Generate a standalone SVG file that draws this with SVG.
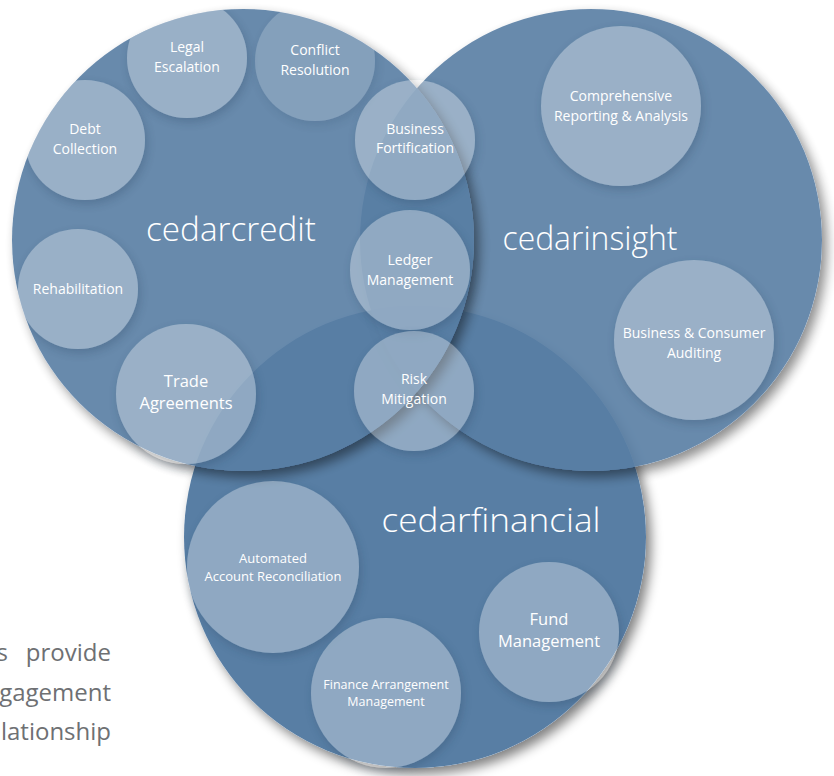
<svg xmlns="http://www.w3.org/2000/svg" width="834" height="776" viewBox="0 0 834 776">
<style>
.big{fill:#597ea4}
.fin{fill:#587ea4}
.b{fill:#ffffff;opacity:.33}
.bd{fill:#ffffff;opacity:.19}
.t{font-family:"Open Sans","Liberation Sans",sans-serif;fill:#ffffff;text-anchor:middle;font-size:14px}
.tl{font-size:16.5px}
.ts{font-size:13px}
.tx{font-size:12.5px}
.h{font-family:"Open Sans","Liberation Sans",sans-serif;font-weight:300;fill:#ffffff;text-anchor:middle;font-size:33px}
.p{font-family:"Open Sans","Liberation Sans",sans-serif;fill:#6e7073;font-size:24px;text-anchor:end}
</style>
<defs>
<filter id="bigShadow" x="-10%" y="-10%" width="125%" height="125%">
<feGaussianBlur in="SourceAlpha" stdDeviation="6" result="bl"/>
<feOffset in="bl" dx="5" dy="6" result="of"/>
<feComposite in="of" in2="SourceAlpha" operator="out" result="s"/>
<feComponentTransfer in="s" result="s2"><feFuncA type="linear" slope="0.5"/></feComponentTransfer>
<feMerge><feMergeNode in="s2"/><feMergeNode in="SourceGraphic"/></feMerge>
</filter>
<filter id="ss" x="-25%" y="-25%" width="160%" height="160%">
<feGaussianBlur in="SourceAlpha" stdDeviation="5" result="bl"/>
<feOffset in="bl" dx="2" dy="4" result="of"/>
<feComposite in="of" in2="SourceAlpha" operator="out" result="s"/>
<feFlood flood-color="#1d3550" flood-opacity="0.7" result="fl"/>
<feComposite in="fl" in2="s" operator="in" result="sh"/>
<feMerge><feMergeNode in="sh"/><feMergeNode in="SourceGraphic"/></feMerge>
</filter>
<clipPath id="clipCredit"><circle cx="243" cy="240" r="231"/></clipPath>
</defs>
<rect width="834" height="776" fill="#ffffff"/>

<g id="bottom-text">
<text class="p" x="8" y="661">s</text>
<text class="p" x="111" y="661">provide</text>
<text class="p" x="111" y="701">gagement</text>
<text class="p" x="111" y="740">lationship</text>
</g>

<g id="cedarfinancial">
<circle class="fin" cx="415" cy="537" r="231" filter="url(#bigShadow)"/>
<text class="h" x="491" y="532" textLength="219" lengthAdjust="spacingAndGlyphs">cedarfinancial</text>
</g>
<g id="cedarinsight">
<circle class="big" cx="591" cy="240" r="231" opacity="0.9" filter="url(#bigShadow)"/>
<text class="h" x="590" y="250" textLength="175" lengthAdjust="spacingAndGlyphs">cedarinsight</text>
</g>
<g id="cedarcredit">
<circle class="big" cx="243" cy="240" r="231" opacity="0.9" filter="url(#bigShadow)"/>
<text class="h" x="231" y="241" textLength="170" lengthAdjust="spacingAndGlyphs">cedarcredit</text>
</g>

<g id="connectors"/>

<g id="legal-escalation" clip-path="url(#clipCredit)">
<circle class="b" cx="187" cy="58" r="60" filter="url(#ss)"/>
<text class="t" x="187" y="52">Legal</text><text class="t" x="187" y="72">Escalation</text>
</g>
<g id="conflict-resolution" clip-path="url(#clipCredit)">
<circle class="bd" cx="315" cy="61" r="60" filter="url(#ss)"/>
<text class="t" x="315" y="55">Conflict</text><text class="t" x="315" y="75">Resolution</text>
</g>
<g id="debt-collection" clip-path="url(#clipCredit)">
<circle class="b" cx="85" cy="140" r="60" filter="url(#ss)"/>
<text class="t" x="85" y="134">Debt</text><text class="t" x="85" y="154">Collection</text>
</g>
<g id="rehabilitation" clip-path="url(#clipCredit)">
<circle class="b" cx="78" cy="289" r="60" filter="url(#ss)"/>
<text class="t" x="78" y="294">Rehabilitation</text>
</g>
<g id="trade-agreements">
<circle class="b" cx="186" cy="394" r="70" filter="url(#ss)"/>
<text class="t tl" x="186" y="387">Trade</text><text class="t tl" x="186" y="409">Agreements</text>
</g>
<g id="business-fortification">
<circle class="b" cx="415" cy="140" r="60" filter="url(#ss)"/>
<text class="t" x="415" y="134">Business</text><text class="t" x="415" y="153">Fortification</text>
</g>
<g id="ledger-management">
<circle class="b" cx="410" cy="270" r="60" filter="url(#ss)"/>
<text class="t" x="410" y="265">Ledger</text><text class="t" x="410" y="285">Management</text>
</g>
<g id="risk-mitigation">
<circle class="b" cx="414" cy="391" r="60" filter="url(#ss)"/>
<text class="t" x="414" y="384">Risk</text><text class="t" x="414" y="404">Mitigation</text>
</g>
<g id="comprehensive-reporting">
<circle class="b" cx="621" cy="106" r="80" filter="url(#ss)"/>
<text class="t" x="621" y="101">Comprehensive</text><text class="t" x="621" y="121">Reporting &amp; Analysis</text>
</g>
<g id="business-consumer-auditing">
<circle class="b" cx="694" cy="340" r="80" filter="url(#ss)"/>
<text class="t" x="694" y="338">Business &amp; Consumer</text><text class="t" x="694" y="358">Auditing</text>
</g>
<g id="automated-account-reconciliation">
<circle class="b" cx="273" cy="567" r="86" filter="url(#ss)"/>
<text class="t ts" x="273" y="563">Automated</text><text class="t ts" x="273" y="581">Account Reconciliation</text>
</g>
<g id="finance-arrangement-management">
<circle class="b" cx="386" cy="693" r="75" filter="url(#ss)"/>
<text class="t tx" x="386" y="689">Finance Arrangement</text><text class="t tx" x="386" y="706">Management</text>
</g>
<g id="fund-management">
<circle class="b" cx="549" cy="632" r="70" filter="url(#ss)"/>
<text class="t tl" x="549" y="625">Fund</text><text class="t tl" x="549" y="647">Management</text>
</g>
</svg>
